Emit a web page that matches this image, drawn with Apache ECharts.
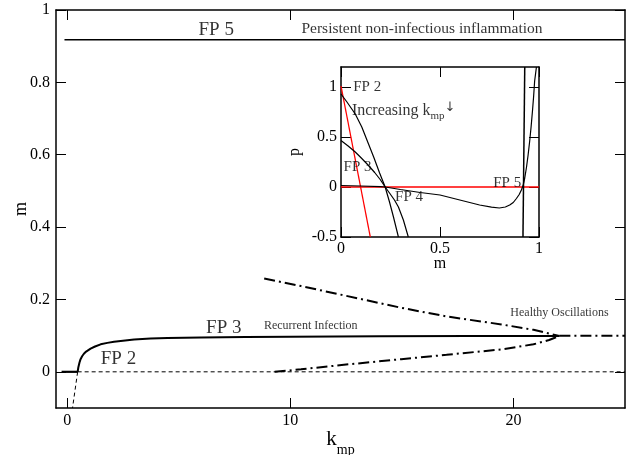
<!DOCTYPE html>
<html>
<head>
<meta charset="utf-8">
<script src="https://cdn.jsdelivr.net/npm/echarts@6/dist/echarts.min.js"></script>
<style>
  html, body { margin: 0; padding: 0; background: #fff; }
  #chart { width: 626px; height: 455px; }
</style>
</head>
<body>
<div id="chart"></div>
<script>
// ---- Bifurcation diagram: steady-state m versus k_mp ----
const fp5Upper = [[-0.12, 0.918], [25, 0.918]];
const fp2Solid = [[-0.25, 0], [0.47, 0]];
const fp2Dashed = [[0.47, 0], [25, 0]];
const fp2DashedLow = [[0.47, 0], [0.24, -0.1]];
const fp3Curve = [
  [0.47, 0], [0.5, 0.012], [0.55, 0.025], [0.6, 0.035], [0.67, 0.043], [0.75, 0.05],
  [0.85, 0.056], [0.95, 0.06], [1.05, 0.064], [1.25, 0.07], [1.5, 0.076], [1.8, 0.08],
  [2.1, 0.083], [2.4, 0.085], [3, 0.089], [3.74, 0.092], [4.5, 0.0935], [6, 0.095],
  [8, 0.096], [10, 0.097], [14, 0.098], [18, 0.099], [22.06, 0.099]
];
const oscUpper = [
  [8.83, 0.258], [10.48, 0.237], [12.5, 0.21], [14.97, 0.177], [17, 0.153],
  [19.46, 0.131], [20.9, 0.116], [22.06, 0.099]
];
const oscLower = [
  [9.3, 0.0], [10.48, 0.007], [12.5, 0.02], [14.97, 0.035], [17, 0.047],
  [19.46, 0.062], [20.9, 0.076], [21.6, 0.088], [22.06, 0.099]
];
const oscRight = [[22.06, 0.1], [25, 0.1]];

const mainXTicks = [0, 10, 20];
const mainYTicks = [0, 0.2, 0.4, 0.6, 0.8, 1];

// annotations: [k, m, text, align, size]
const mainNotes = [
  [6.68, 0.945, 'FP 5', 'center', 19],
  [10.5, 0.948, 'Persistent non-infectious inflammation', 'left', 15.5],
  [7.02, 0.12, 'FP 3', 'center', 19],
  [2.3, 0.035, 'FP 2', 'center', 19],
  [8.82, 0.126, 'Recurrent Infection', 'left', 12],
  [19.86, 0.164, 'Healthy Oscillations', 'left', 12]
];

// ---- Inset: p versus m nullclines ----
const redSteep = [[0, 1.01], [0.148, -0.5]];
const redFlat = [[0, 0], [1, 0]];
const curveA = [
  [0, 0.93], [0.03, 0.85], [0.072, 0.73], [0.105, 0.6], [0.139, 0.43], [0.165, 0.3],
  [0.195, 0.14], [0.223, 0], [0.245, -0.15], [0.265, -0.3], [0.29, -0.5]
];
const curveB = [
  [0, 0.464], [0.036, 0.41], [0.072, 0.35], [0.105, 0.285], [0.139, 0.215], [0.17, 0.145],
  [0.198, 0.075], [0.223, 0], [0.245, -0.06], [0.27, -0.13], [0.29, -0.2], [0.315, -0.33], [0.34, -0.5]
];
const curveC = [
  [0, 0.015], [0.1, 0.01], [0.2, 0.004], [0.223, 0], [0.3, -0.025], [0.4, -0.055],
  [0.5, -0.08], [0.6, -0.13], [0.7, -0.18], [0.76, -0.202], [0.8, -0.21], [0.83, -0.2],
  [0.852, -0.18], [0.87, -0.155], [0.886, -0.115], [0.9, -0.075], [0.911, -0.03],
  [0.92, 0.017], [0.928, 0.09], [0.937, 0.2], [0.945, 0.32], [0.953, 0.46],
  [0.96, 0.6], [0.967, 0.76], [0.973, 0.91], [0.978, 1.06], [0.987, 1.2]
];
const curveD = [[0.919, -0.5], [0.928, 1.2]];

const insetXTicks = [0, 0.5, 1];
const insetYTicks = [-0.5, 0, 0.5, 1];

const insetNotes = [
  [0.062, 1.0, 'FP 2', 'left', 15],
  [0.055, 0.76, '{t|Increasing k}{s|mp}{a|↓}', 'left', 16],
  [0.013, 0.2, 'FP 3', 'left', 15],
  [0.273, -0.1, 'FP 4', 'left', 15],
  [0.91, 0.04, 'FP 5', 'right', 15]
];

const FONT = 'Liberation Serif';
const INK = '#000';

function frameAxis(gridIndex, pos, min, max, ticks, showLabels, fontSize, margin) {
  return {
    type: 'value', gridIndex, position: pos, min, max,
    nameMoveOverlap: false,
    splitLine: { show: false },
    axisLine: { show: true, onZero: false, lineStyle: { color: INK, width: 1.5 } },
    axisTick: { show: true, inside: true, length: 10, customValues: ticks, lineStyle: { color: INK, width: 1 } },
    axisLabel: {
      show: showLabels, customValues: ticks, color: INK, fontFamily: FONT,
      fontSize: fontSize, margin: margin,
      formatter: v => String(Math.round(v * 10) / 10)
    }
  };
}

function line(data, xi, yi, width, type, color) {
  return {
    type: 'line', data, xAxisIndex: xi, yAxisIndex: yi, symbol: 'none',
    clip: true, silent: true, z: 3,
    lineStyle: { color: color || INK, width, type: type || 'solid' }
  };
}

function notes(list, xi, yi) {
  return {
    type: 'scatter', xAxisIndex: xi, yAxisIndex: yi, symbolSize: 0, silent: true, z: 4,
    data: list.map(n => ({
      value: [n[0], n[1]],
      label: {
        show: true, position: [0, 0], formatter: n[2], align: n[3],
        verticalAlign: 'middle', color: INK, fontFamily: FONT, fontSize: n[4],
        rich: {
          t: { fontFamily: FONT, fontSize: 16, color: INK },
          s: { fontFamily: FONT, fontSize: 11, color: INK, padding: [10, 0, 0, 0] },
          a: { fontFamily: 'DejaVu Sans', fontSize: 13, color: INK, padding: [0, 0, 7, 0] }
        }
      }
    }))
  };
}

const mainX = frameAxis(0, 'bottom', -0.5, 25, mainXTicks, true, 16, 5);
mainX.name = '{k|k}{s|mp}';
mainX.nameLocation = 'middle';
mainX.nameGap = 13;
mainX.nameTextStyle = {
  rich: {
    k: { fontFamily: FONT, fontSize: 21, color: INK },
    s: { fontFamily: FONT, fontSize: 14, color: INK, padding: [22, 0, 0, 0] }
  }
};
const mainY = frameAxis(0, 'left', -0.1, 1, mainYTicks, true, 16, 6);
mainY.name = 'm';
mainY.nameLocation = 'middle';
mainY.nameRotate = 90;
mainY.nameGap = 26;
mainY.nameTextStyle = { fontFamily: FONT, fontSize: 18, color: INK };

const insetX = frameAxis(1, 'bottom', 0, 1, insetXTicks, true, 16, 4);
insetX.name = 'm';
insetX.nameLocation = 'middle';
insetX.nameGap = 19;
insetX.nameTextStyle = { fontFamily: FONT, fontSize: 16, color: INK };
const insetY = frameAxis(1, 'left', -0.5, 1.2, insetYTicks, true, 16, 4);
insetY.name = 'p';
insetY.nameLocation = 'middle';
insetY.nameRotate = 90;
insetY.nameGap = 38;
insetY.nameTextStyle = { fontFamily: FONT, fontSize: 16, color: INK };

const chart = echarts.init(document.getElementById('chart'), null, { renderer: 'canvas' });
chart.setOption({
  animation: false,
  backgroundColor: '#fff',
  grid: [
    { left: 56, top: 10, width: 569, height: 398, outerBoundsMode: 'none', containLabel: false },
    { left: 341, top: 67, width: 198, height: 170, outerBoundsMode: 'none', containLabel: false }
  ],
  xAxis: [
    mainX,
    frameAxis(0, 'top', -0.5, 25, mainXTicks, false, 16, 6),
    insetX,
    frameAxis(1, 'top', 0, 1, insetXTicks, false, 16, 4)
  ],
  yAxis: [
    mainY,
    frameAxis(0, 'right', -0.1, 1, mainYTicks, false, 16, 6),
    insetY,
    frameAxis(1, 'right', -0.5, 1.2, insetYTicks, false, 16, 4)
  ],
  series: [
    line(fp5Upper, 0, 0, 1.5),
    line(fp2Solid, 0, 0, 2.2),
    line(fp2Dashed, 0, 0, 1, [4, 3]),
    line(fp2DashedLow, 0, 0, 1, [4, 3]),
    line(fp3Curve, 0, 0, 2),
    line(oscUpper, 0, 0, 2, [11, 4, 2, 4]),
    line(oscLower, 0, 0, 2, [11, 4, 2, 4]),
    line(oscRight, 0, 0, 2, [11, 4, 2, 4]),
    notes(mainNotes, 0, 0),

    line(redSteep, 2, 2, 1.3, 'solid', '#ff0000'),
    line(redFlat, 2, 2, 1.3, 'solid', '#ff0000'),
    line(curveA, 2, 2, 1.2),
    line(curveB, 2, 2, 1.2),
    line(curveC, 2, 2, 1.2),
    line(curveD, 2, 2, 1.5),
    notes(insetNotes, 2, 2)
  ]
});
</script>
</body>
</html>
